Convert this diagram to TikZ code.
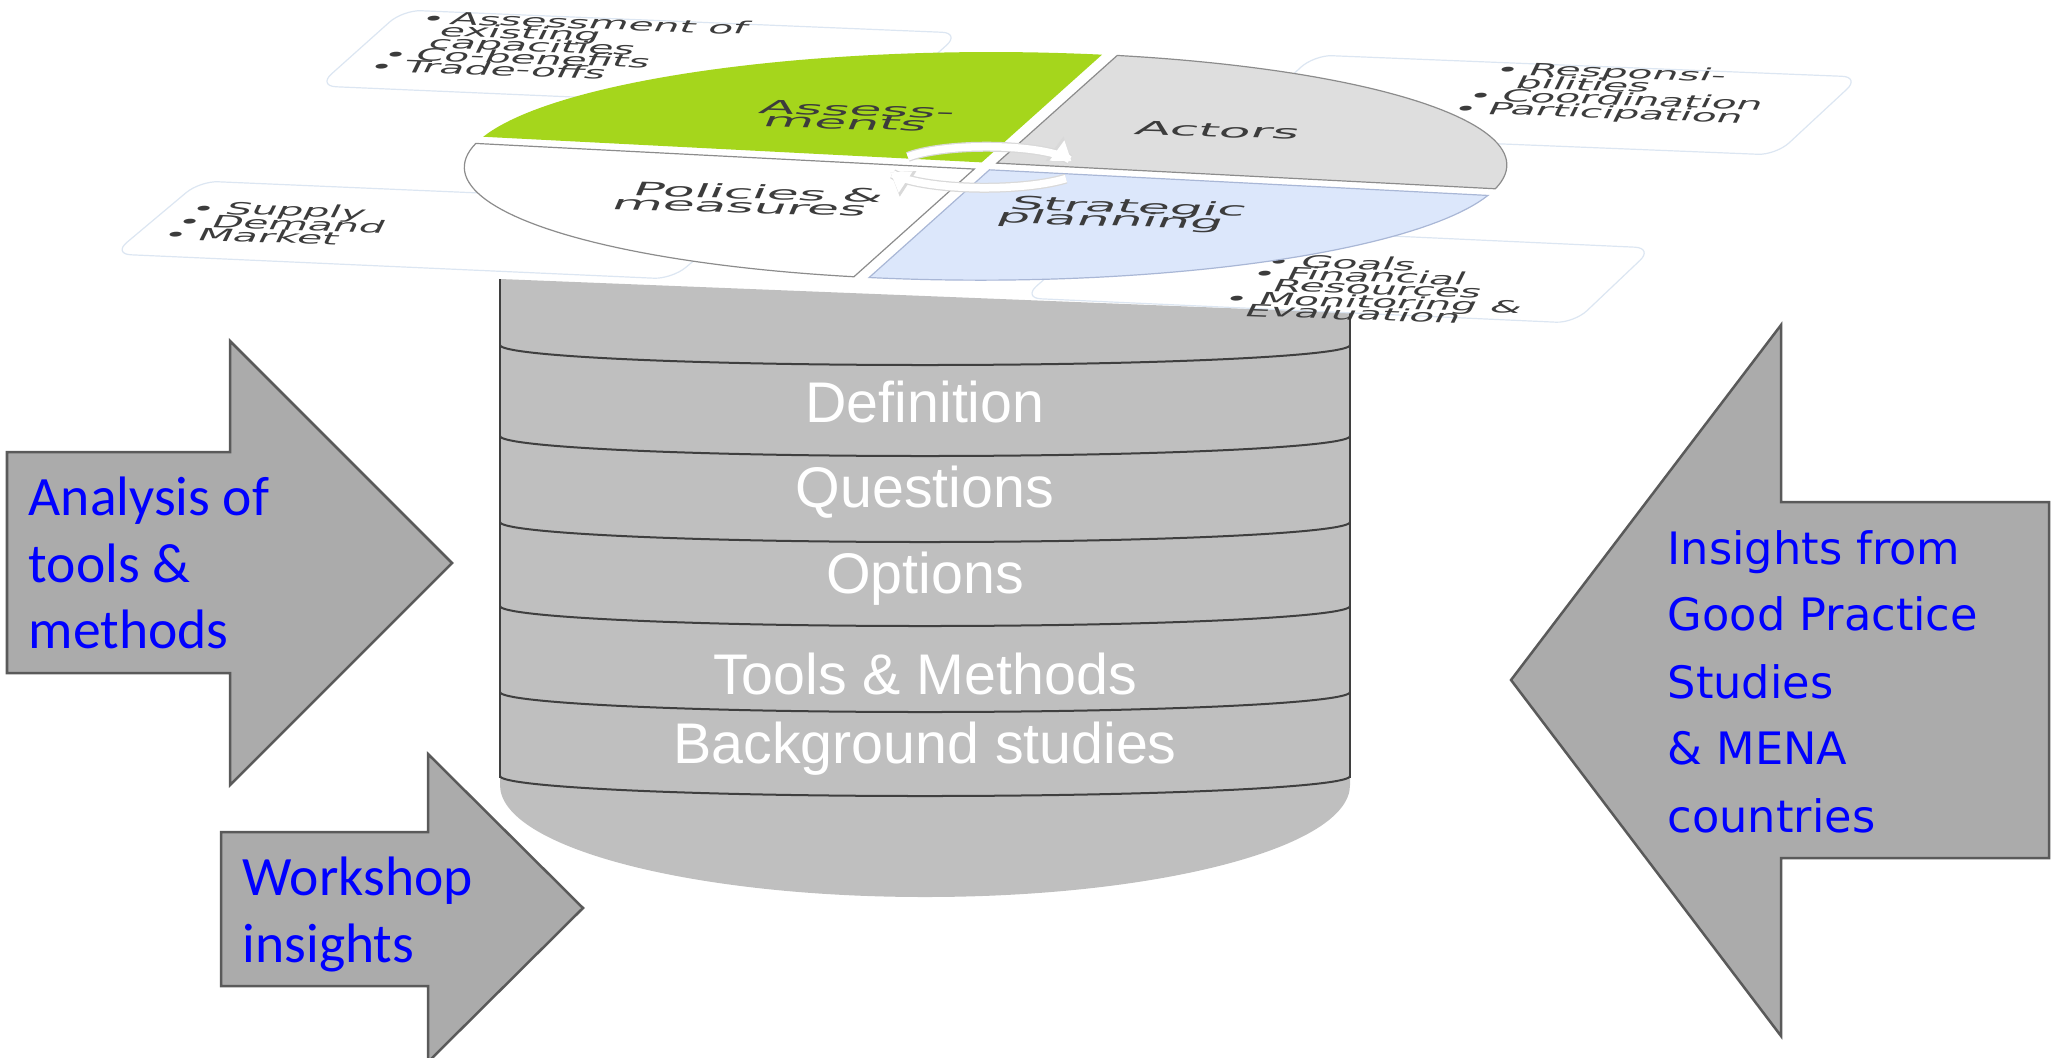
\documentclass[tikz,border=0pt]{standalone}
\usepackage{fontspec}
\usetikzlibrary{arrows.meta}
\newfontfamily\dv{DejaVu Sans}
\newfontfamily\cb{Carlito}
\newfontfamily\lib{Liberation Sans}
\definecolor{greenq}{HTML}{A5D61C}
\definecolor{actgray}{HTML}{DEDEDE}
\definecolor{stratblue}{HTML}{DCE7FB}
\definecolor{stratline}{HTML}{A9B7D6}
\definecolor{arcgray}{HTML}{8C8C8C}
\definecolor{cylfill}{HTML}{BFBFBF}
\definecolor{cylline}{HTML}{3F3F3F}
\definecolor{arrfill}{HTML}{ABABAB}
\definecolor{arrline}{HTML}{5A5A5A}
\definecolor{plateline}{HTML}{DCE6F2}
\definecolor{txtgray}{HTML}{3C3C3C}
\definecolor{txtblue}{HTML}{0000FF}
\tikzset{
  cylstroke/.style={draw=cylline, line width=0.02cm},
  cyltxt/.style={font={\lib\fontsize{16.3}{19}\selectfont}, text=white, anchor=base, inner sep=0},
  plate/.style={fill=white, draw=plateline, line width=0.012cm, rounded corners=0.18cm},
  plt/.style={font={\dv\fontsize{11.6}{12}\selectfont}, text=txtgray, inner sep=0, anchor=base west, rotate=-2, xslant=0.45, yscale=0.42},
  lbl/.style={font={\dv\fontsize{14.8}{15}\selectfont}, text=txtgray, inner sep=0, anchor=base, rotate=-1.6, xslant=0.4, yscale=0.36},
  bigarrow/.style={fill=arrfill, draw=arrline, line width=0.025cm, line join=miter},
  lefttxt/.style={font={\cb\fontsize{15.8}{19}\selectfont}, text=txtblue, anchor=base west, inner sep=0},
  righttxt/.style={font={\dv\fontsize{12.7}{19}\selectfont}, text=txtblue, anchor=base west, inner sep=0},
  piece/.style={line width=0.012cm},
}
\begin{document}
\begin{tikzpicture}[x=0.01cm,y=-0.01cm]
\useasboundingbox (0,0) rectangle (2052,1057);

% ---------- cylinder ----------
\fill[cylfill] (500,279) -- (1350,313) -- (1350,785)
  .. controls (1350,847) and (1160,897) .. (925,897)
  .. controls (690,897) and (500,847) .. (500,785) -- cycle;
\draw[cylstroke] (500,279) -- (500,778);
\draw[cylstroke] (1350,313) -- (1350,778);
\foreach \ye in {345,436,522,606,692,776}{
  \draw[cylstroke] (500,\ye) .. controls (500,\ye+11) and (690,\ye+20) .. (925,\ye+20)
     .. controls (1160,\ye+20) and (1350,\ye+11) .. (1350,\ye);
}
\node[cyltxt] (c1) at (925,422) {Definition};
\node[cyltxt] (c2) at (925,507) {Questions};
\node[cyltxt] (c3) at (925,593) {Options};
\node[cyltxt] (c4) at (925,694) {Tools \& Methods};
\node[cyltxt] (c5) at (925,763) {Background studies};

% ---------- label plates ----------
\draw[plate] (403,10) -- (960,33) -- (875,110) -- (318,86) -- cycle;
\draw[plate] (1314,55) -- (1860,77) -- (1776,155) -- (1230,133) -- cycle;
\draw[plate] (200,181) -- (760,205) -- (672,279) -- (113,254) -- cycle;
\draw[plate] (1108,223) -- (1653,248) -- (1574,323) -- (1023,298) -- cycle;

% plate A
\node[plt] (bA1) at (418,24) {•};
\node[plt] (pA1) at (448,24) {Assessment of};
\node[plt] (pA2) at (437,36) {existing};
\node[plt] (pA3) at (426,48) {capacities};
\node[plt] (bA2) at (380,60) {•};
\node[plt] (pA4) at (413,60) {Co-benefits};
\node[plt] (bA3) at (366,72) {•};
\node[plt] (pA5) at (401,72) {Trade-offs};
% plate B
\node[plt] (bB1) at (1492,75) {•};
\node[plt] (pB1) at (1526,75) {Responsi-};
\node[plt] (pB2) at (1513,88) {bilities};
\node[plt] (bB2) at (1465,101) {•};
\node[plt] (pB3) at (1499,101) {Coordination};
\node[plt] (bB3) at (1450,114) {•};
\node[plt] (pB4) at (1485,114) {Participation};
% plate C
\node[plt] (bC1) at (188,214) {•};
\node[plt] (pC1) at (223,214) {Supply};
\node[plt] (bC2) at (174,227) {•};
\node[plt] (pC2) at (209,227) {Demand};
\node[plt] (bC3) at (160,240) {•};
\node[plt] (pC3) at (195,240) {Market};
% plate D
\node[plt] (bD1) at (1263,267) {•};
\node[plt] (pD1) at (1298,267) {Goals};
\node[plt] (bD2) at (1249,279) {•};
\node[plt] (pD2) at (1284,279) {Financial};
\node[plt] (pD3) at (1270,291) {Resources};
\node[plt] (bD3) at (1221,304) {•};
\node[plt] (pD4) at (1256,304) {Monitoring \&};
\node[plt] (pD5) at (1242,316) {Evaluation};

% ---------- disk ----------
\begin{scope}[shift={(9.85cm,-1.66cm)}, x={(5.06cm,-0.26cm)}, y={(1.24cm,1.11cm)}]
  \fill[greenq] (-0.015,0.03) -- plot[domain=90.86:178.28, samples=50] ({cos(\x)},{sin(\x)}) -- cycle;
  \filldraw[piece, fill=actgray, draw=arcgray] (0.015,0.03) -- plot[domain=89.14:1.72, samples=50] ({cos(\x)},{sin(\x)}) -- cycle;
  \filldraw[piece, fill=white, draw=arcgray] (-0.015,-0.03) -- plot[domain=181.72:269.14, samples=50] ({cos(\x)},{sin(\x)}) -- cycle;
  \filldraw[piece, fill=stratblue, draw=stratline] (0.015,-0.03) -- plot[domain=270.86:358.28, samples=50] ({cos(\x)},{sin(\x)}) -- cycle;
  % cycle arrows
  \draw[line width=0.1cm, draw=gray!30, -{Triangle[length=0.21cm,width=0.29cm]}]
    plot[domain=165:28, samples=30] ({0.17*cos(\x)},{0.17*sin(\x)});
  \draw[line width=0.075cm, draw=white, -{Triangle[length=0.18cm,width=0.24cm]}]
    plot[domain=165:28, samples=30] ({0.17*cos(\x)},{0.17*sin(\x)});
  \draw[line width=0.1cm, draw=gray!30, -{Triangle[length=0.21cm,width=0.29cm]}]
    plot[domain=-22:-150, samples=30] ({0.19*cos(\x)},{0.19*sin(\x)});
  \draw[line width=0.075cm, draw=white, -{Triangle[length=0.18cm,width=0.24cm]}]
    plot[domain=-22:-150, samples=30] ({0.19*cos(\x)},{0.19*sin(\x)});
\end{scope}

\node[lbl] (qA1) at (855,116) {Assess-};
\node[lbl] (qA2) at (843,129) {ments};
\node[lbl] (qB)  at (1215,137) {Actors};
\node[lbl] (qC1) at (756,199) {Policies \&};
\node[lbl] (qC2) at (737,213) {measures};
\node[lbl] (qD1) at (1126,213) {Strategic};
\node[lbl] (qD2) at (1108,226) {planning};

% ---------- big arrows ----------
\draw[bigarrow] (7,452) -- (230,452) -- (230,341) -- (452,563) -- (230,785) -- (230,673) -- (7,673) -- cycle;
\node[lefttxt] (l1) at (28,515) {Analysis of};
\node[lefttxt] (l2) at (28,582) {tools \&};
\node[lefttxt] (l3) at (28,648) {methods};

\draw[bigarrow] (221,832) -- (428,832) -- (428,754) -- (583,908) -- (428,1062) -- (428,986) -- (221,986) -- cycle;
\node[lefttxt] (w1) at (242,895) {Workshop};
\node[lefttxt] (w2) at (242,962) {insights};

\draw[bigarrow] (2049,502) -- (1781,502) -- (1781,325) -- (1511,680) -- (1781,1036) -- (1781,858) -- (2049,858) -- cycle;
\node[righttxt] (r1) at (1667,564) {Insights from};
\node[righttxt] (r2) at (1667,630) {Good Practice};
\node[righttxt] (r3) at (1667,698) {Studies};
\node[righttxt] (r4) at (1667,764) {\& MENA};
\node[righttxt] (r5) at (1667,832) {countries};
\end{tikzpicture}
\end{document}
